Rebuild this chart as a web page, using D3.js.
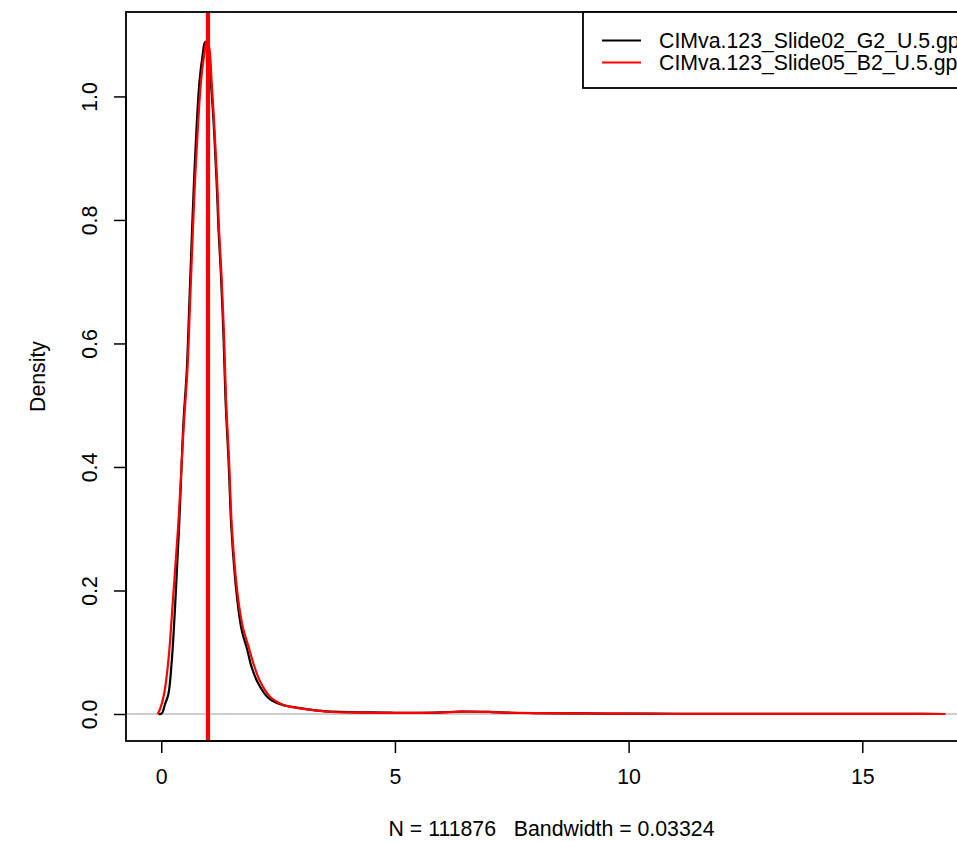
<!DOCTYPE html>
<html><head><meta charset="utf-8">
<script src="https://cdn.jsdelivr.net/npm/d3@7"></script>
<style>html,body{margin:0;padding:0;background:#fff;overflow:hidden}</style>
</head><body>
<svg id="chart" width="957" height="842"></svg>
<script>
const seriesNames = ["CIMva.123_Slide02_G2_U.5.gpr", "CIMva.123_Slide05_B2_U.5.gpr"];
const seriesColors = ["#000000", "#ff0000"];

const blackX = [-0.06, 0.011, 0.081, 0.152, 0.225, 0.310, 0.381, 0.439, 0.477, 0.546, 0.601, 0.653, 0.702, 0.760, 0.820, 0.884, 0.937, 0.991, 1.059, 1.130, 1.183, 1.226, 1.273, 1.333, 1.376, 1.440, 1.504, 1.622, 1.723, 1.830, 1.937, 2.078, 2.292, 2.579, 2.934, 3.291, 3.649, 4.0, 4.5, 5.0, 5.5, 6.0, 6.4, 7.0, 7.5, 8.0, 9.0, 10.0, 11.0, 12.0, 13.0, 14.0, 15.0, 16.0, 16.75];
const blackDensity = [0, 0.001, 0.016, 0.032, 0.086, 0.194, 0.302, 0.410, 0.475, 0.556, 0.665, 0.771, 0.864, 0.956, 1.026, 1.066, 1.088, 1.083, 1.026, 0.945, 0.864, 0.783, 0.718, 0.609, 0.507, 0.410, 0.297, 0.188, 0.135, 0.107, 0.075, 0.049, 0.026, 0.015, 0.010, 0.006, 0.004, 0.003, 0.0025, 0.002, 0.002, 0.0025, 0.004, 0.0035, 0.002, 0.0015, 0.001, 0.0006, 0.0004, 0.0003, 0.0002, 0.0001, 0.0001, 0.0001, 0];

const redX = [-0.08, -0.026, 0.060, 0.152, 0.259, 0.360, 0.439, 0.488, 0.559, 0.616, 0.670, 0.723, 0.788, 0.852, 0.916, 0.980, 1.034, 1.076, 1.141, 1.194, 1.237, 1.284, 1.344, 1.387, 1.451, 1.515, 1.643, 1.750, 1.864, 1.975, 2.114, 2.328, 2.606, 2.970, 3.313, 3.655, 4.0, 4.5, 5.0, 5.5, 6.0, 6.4, 7.0, 7.5, 8.0, 9.0, 10.0, 11.0, 12.0, 13.0, 14.0, 15.0, 16.0, 16.78];
const redDensity = [0, 0.008, 0.032, 0.086, 0.194, 0.302, 0.410, 0.475, 0.556, 0.665, 0.771, 0.864, 0.956, 1.026, 1.066, 1.093, 1.075, 1.026, 0.945, 0.864, 0.783, 0.718, 0.609, 0.507, 0.410, 0.297, 0.188, 0.139, 0.110, 0.081, 0.053, 0.028, 0.015, 0.009, 0.0057, 0.0032, 0.0026, 0.002, 0.0018, 0.0019, 0.0024, 0.0038, 0.0033, 0.002, 0.0014, 0.0009, 0.0005, 0.0003, 0.0002, 0.0002, 0.0001, 0.0001, 0.0001, 0];

const xTicks = [0, 5, 10, 15];
const yTicks = [0, 0.2, 0.4, 0.6, 0.8, 1.0];
const markerX = [1];
const xTitle = "N = 111876   Bandwidth = 0.03324";
const yTitle = "Density";

const svg = d3.select("#chart");
const font = "'Liberation Sans', Arial, Helvetica, sans-serif";
const fs = 21.3;
const plot = {left: 126, top: 12, right: 977, bottom: 741};

const allX = blackX.concat(redX);
const allY = blackDensity.concat(redDensity);
const xmin = d3.min(allX), xmax = d3.max(allX), xr = xmax - xmin;
const ymin = 0, ymax = d3.max(allY), yr = ymax - ymin;
const x = d3.scaleLinear().domain([xmin - 0.04 * xr, xmax + 0.04 * xr]).range([plot.left, plot.right]);
const y = d3.scaleLinear().domain([ymin - 0.04 * yr, ymax + 0.04 * yr]).range([plot.bottom, plot.top]);

svg.append("defs").append("clipPath").attr("id", "clip")
  .append("rect").attr("x", plot.left).attr("y", plot.top)
  .attr("width", plot.right - plot.left).attr("height", plot.bottom - plot.top);

const g = svg.append("g").attr("clip-path", "url(#clip)");

// zero line
g.append("line").attr("x1", plot.left).attr("x2", plot.right)
  .attr("y1", y(0)).attr("y2", y(0)).attr("stroke", "#bebebe").attr("stroke-width", 1.3);

const line = d3.line().x(d => x(d[0])).y(d => y(d[1])).curve(d3.curveCatmullRom.alpha(0.5));
const series = [d3.zip(blackX, blackDensity), d3.zip(redX, redDensity)];
series.forEach((s, i) => {
  g.append("path").datum(s).attr("d", line).attr("fill", "none")
    .attr("stroke", seriesColors[i]).attr("stroke-width", 2.2).attr("stroke-linejoin", "round");
});

// vertical marker
g.selectAll("line.marker").data(markerX).enter().append("line").attr("class", "marker")
  .attr("x1", d => x(d)).attr("x2", d => x(d)).attr("y1", plot.top).attr("y2", plot.bottom)
  .attr("stroke", "#ff0000").attr("stroke-width", 4.2);

// box
svg.append("rect").attr("x", plot.left).attr("y", plot.top)
  .attr("width", plot.right - plot.left).attr("height", plot.bottom - plot.top)
  .attr("fill", "none").attr("stroke", "#000").attr("stroke-width", 1.8);

// x axis
const xAxis = svg.append("g").attr("transform", `translate(0,${plot.bottom})`)
  .call(d3.axisBottom(x).tickValues(xTicks).tickSize(12).tickSizeOuter(0).tickPadding(16).tickFormat(d3.format("d")));
xAxis.select(".domain").attr("d", `M${x(xTicks[0])},0H${x(xTicks[xTicks.length - 1])}`).attr("stroke-width", 1.8);
xAxis.selectAll(".tick line").attr("stroke-width", 1.5);
xAxis.selectAll("text").attr("font-family", font).attr("font-size", fs).attr("fill", "#000");

// y axis
const yAxis = svg.append("g").attr("transform", `translate(${plot.left},0)`)
  .call(d3.axisLeft(y).tickValues(yTicks).tickSize(12).tickSizeOuter(0).tickFormat(d3.format(".1f")));
yAxis.select(".domain").attr("d", `M0,${y(yTicks[0])}V${y(yTicks[yTicks.length - 1])}`).attr("stroke-width", 1.8);
yAxis.selectAll(".tick line").attr("stroke-width", 1.5);
yAxis.selectAll("text").attr("font-family", font).attr("font-size", fs).attr("fill", "#000")
  .attr("transform", "rotate(-90)").attr("x", 0).attr("y", -29).attr("dy", 0)
  .attr("text-anchor", "middle");

// titles
svg.append("text").attr("x", (plot.left + plot.right) / 2).attr("y", 836)
  .attr("text-anchor", "middle").attr("font-family", font).attr("font-size", fs)
  .style("white-space", "pre").attr("xml:space", "preserve").text(xTitle);
svg.append("text").attr("transform", `translate(45,${(plot.top + plot.bottom) / 2}) rotate(-90)`)
  .attr("text-anchor", "middle").attr("font-family", font).attr("font-size", fs).text(yTitle);

// legend
const lg = svg.append("g");
lg.append("rect").attr("x", 583).attr("y", plot.top).attr("width", plot.right - 583).attr("height", 76)
  .attr("fill", "#fff").attr("stroke", "#000").attr("stroke-width", 1.8);
seriesNames.forEach((name, i) => {
  const yy = 40.5 + i * 22;
  lg.append("line").attr("x1", 602).attr("x2", 641).attr("y1", yy).attr("y2", yy)
    .attr("stroke", seriesColors[i]).attr("stroke-width", 1.8);
  lg.append("text").attr("x", 659).attr("y", yy + 7.5).attr("font-family", font).attr("font-size", fs)
    .attr("fill", "#000").text(name);
});
</script>
</body></html>
